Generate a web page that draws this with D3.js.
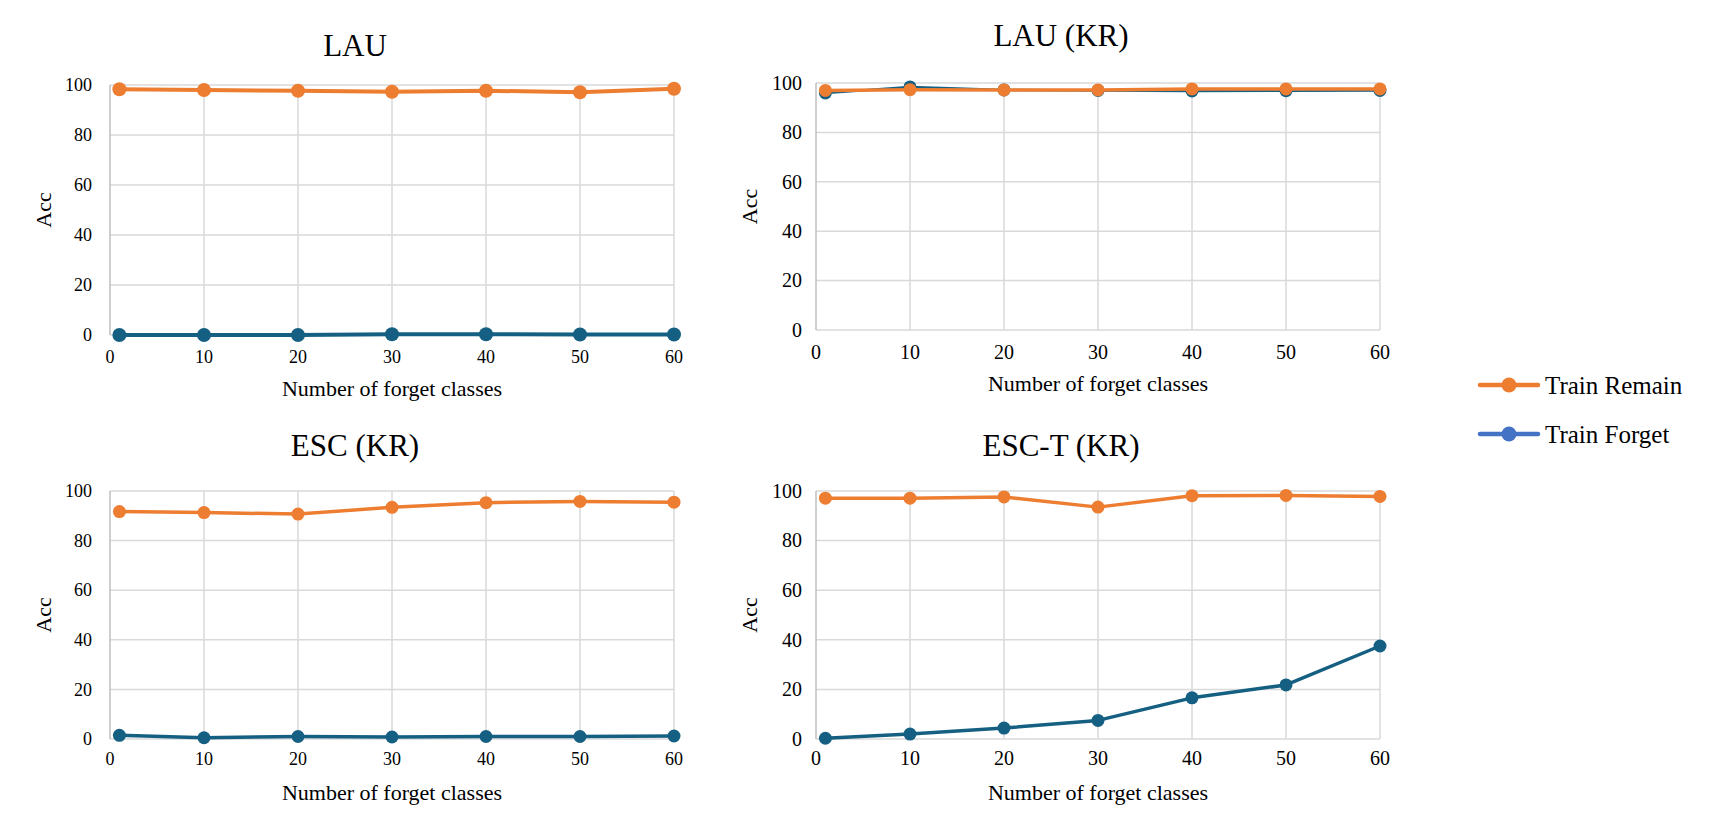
<!DOCTYPE html>
<html>
<head>
<meta charset="utf-8">
<script src="https://cdn.jsdelivr.net/npm/d3@7"></script>
<style>
  body { margin: 0; background: #fff; }
  svg text { font-family: "Liberation Serif", "Times New Roman", serif; fill: #000; }
</style>
</head>
<body>
<div id="chart-container"></div>
<script>
// four small panels: accuracy vs number of forget classes

var forgetClasses = [1, 10, 20, 30, 40, 50, 60]
var xTicks = [0, 10, 20, 30, 40, 50, 60]
var yTicks = [0, 20, 40, 60, 80, 100]
var seriesNames = ['Train Remain', 'Train Forget']
var panelTitles = ['LAU', 'LAU (KR)', 'ESC (KR)', 'ESC-T (KR)']

var lauRemain = [98.3, 98.0, 97.7, 97.3, 97.7, 97.1, 98.5]
var lauForget = [0.0, 0.0, 0.0, 0.3, 0.3, 0.2, 0.2]
var lauKrRemain = [97.0, 97.3, 97.2, 97.2, 97.6, 97.6, 97.6]
var lauKrForget = [96.0, 98.4, 97.2, 97.0, 96.8, 96.9, 97.0]
var escKrRemain = [91.7, 91.3, 90.7, 93.4, 95.3, 95.8, 95.5]
var escKrForget = [1.5, 0.5, 1.0, 0.8, 1.0, 1.0, 1.2]
var escTKrRemain = [97.1, 97.1, 97.6, 93.5, 98.1, 98.2, 97.8]
var escTKrForget = [0.3, 2.0, 4.4, 7.5, 16.6, 21.8, 37.5]

var remainColor = '#ED7D31'
var forgetColor = '#156082'
var legendForgetColor = '#4472C4'

class lineChart {

    constructor(svg, box, title, remain, forget, opts) {
        this.svg = svg
        this.box = box
        this.title = title
        this.remain = remain
        this.forget = forget
        this.opts = opts
    }

    updateFunctions() {
        this.x = d3.scaleLinear()
            .domain([0, 60])
            .range([this.box.left, this.box.right])

        this.y = d3.scaleLinear()
            .domain([0, 100])
            .range([this.box.bottom, this.box.top])

        this.line = d3.line()
            .x((d, i) => this.x(forgetClasses[i]))
            .y(d => this.y(d))

        return this
    }

    makePlot() {
        let g = this.svg.append('g')
        let b = this.box

        // grid
        g.append('g')
            .selectAll('line')
            .data(yTicks)
            .join('line')
            .attr('x1', b.left).attr('x2', b.right)
            .attr('y1', d => this.y(d)).attr('y2', d => this.y(d))
            .attr('stroke', '#d9d9d9')
            .attr('stroke-width', 1.5)

        g.append('g')
            .selectAll('line')
            .data(xTicks.slice(1))
            .join('line')
            .attr('x1', d => this.x(d)).attr('x2', d => this.x(d))
            .attr('y1', b.top).attr('y2', b.bottom)
            .attr('stroke', '#d9d9d9')
            .attr('stroke-width', 1.5)

        // left axis line
        g.append('line')
            .attr('x1', b.left).attr('x2', b.left)
            .attr('y1', b.top).attr('y2', b.bottom)
            .attr('stroke', '#bfbfbf')
            .attr('stroke-width', 1.5)

        // tick labels
        g.append('g')
            .selectAll('text')
            .data(yTicks)
            .join('text')
            .attr('x', b.left - this.opts.yGap)
            .attr('y', d => this.y(d))
            .attr('dy', '0.34em')
            .attr('text-anchor', 'end')
            .attr('font-size', this.opts.tickSize)
            .text(d => d)

        g.append('g')
            .selectAll('text')
            .data(xTicks)
            .join('text')
            .attr('x', d => this.x(d))
            .attr('y', b.bottom + this.opts.xGap)
            .attr('text-anchor', 'middle')
            .attr('font-size', this.opts.tickSize)
            .text(d => d)

        // titles
        g.append('text')
            .attr('x', (b.left + b.right) / 2 - 37)
            .attr('y', b.titleY)
            .attr('text-anchor', 'middle')
            .attr('font-size', 31)
            .text(this.title)

        g.append('text')
            .attr('x', (b.left + b.right) / 2)
            .attr('y', b.bottom + 61)
            .attr('text-anchor', 'middle')
            .attr('font-size', 22)
            .text('Number of forget classes')

        g.append('text')
            .attr('transform', `translate(${b.left - 66},${(b.top + b.bottom) / 2}) rotate(-90)`)
            .attr('dy', '0.34em')
            .attr('text-anchor', 'middle')
            .attr('font-size', 22)
            .text('Acc')

        // series, forget first so remain sits on top
        let series = [
            {vals: this.forget, color: forgetColor, w: this.opts.forgetWidth},
            {vals: this.remain, color: remainColor, w: this.opts.remainWidth}
        ]

        series.forEach(s => {
            g.append('path')
                .datum(s.vals)
                .attr('fill', 'none')
                .attr('stroke', s.color)
                .attr('stroke-width', s.w)
                .attr('stroke-linejoin', 'round')
                .attr('d', this.line)

            g.append('g')
                .selectAll('circle')
                .data(s.vals)
                .join('circle')
                .attr('cx', (d, i) => this.x(forgetClasses[i]))
                .attr('cy', d => this.y(d))
                .attr('r', this.opts.r)
                .attr('fill', s.color)
        })
    }
}

let svg = d3.select('#chart-container')
    .append('svg')
    .attr('width', 1713)
    .attr('height', 836)
    .attr('font-family', '"Liberation Serif", "Times New Roman", serif')

let leftOpts = {tickSize: 18, yGap: 18, xGap: 28, r: 7, remainWidth: 4, forgetWidth: 4}
let rightOpts = {tickSize: 20, yGap: 14, xGap: 29, r: 6.5, remainWidth: 3.5, forgetWidth: 2.5}
let bottomLeftOpts = Object.assign({}, leftOpts, {xGap: 26, r: 6.5, remainWidth: 3.5, forgetWidth: 3.5})
let bottomRightOpts = Object.assign({}, rightOpts, {xGap: 26, remainWidth: 3.5, forgetWidth: 3.5})

let panels = [
    [{left: 110, right: 674, top: 85, bottom: 335, titleY: 56}, lauRemain, lauForget, leftOpts],
    [{left: 816, right: 1380, top: 83, bottom: 330, titleY: 46}, lauKrRemain, lauKrForget, rightOpts],
    [{left: 110, right: 674, top: 491, bottom: 739, titleY: 456}, escKrRemain, escKrForget, bottomLeftOpts],
    [{left: 816, right: 1380, top: 491, bottom: 739, titleY: 456}, escTKrRemain, escTKrForget, bottomRightOpts]
]

panels.forEach((p, i) => {
    new lineChart(svg, p[0], panelTitles[i], p[1], p[2], p[3])
        .updateFunctions()
        .makePlot()
})

// legend
let legendColors = [remainColor, legendForgetColor]
let legend = svg.append('g')
    .selectAll('g')
    .data(seriesNames)
    .join('g')
    .attr('transform', (d, i) => `translate(1480,${385 + i * 49})`)

legend.append('line')
    .attr('x1', 0).attr('x2', 58)
    .attr('stroke', (d, i) => legendColors[i])
    .attr('stroke-width', 4.5)
    .attr('stroke-linecap', 'round')

legend.append('circle')
    .attr('cx', 29)
    .attr('r', 7.5)
    .attr('fill', (d, i) => legendColors[i])

legend.append('text')
    .attr('x', 65)
    .attr('dy', '0.34em')
    .attr('font-size', 25)
    .text(d => d)
</script>
</body>
</html>
